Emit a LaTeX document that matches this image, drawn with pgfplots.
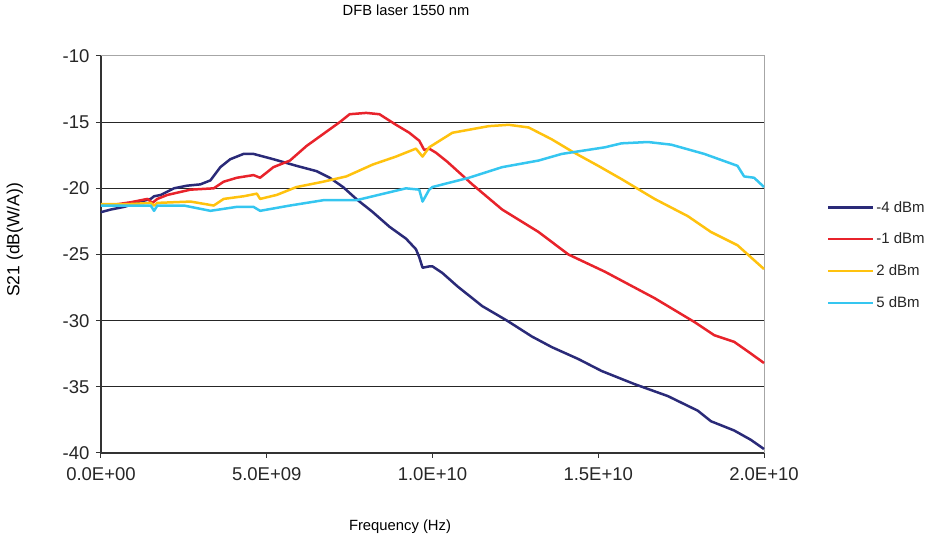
\documentclass[border=0pt]{standalone}
\usepackage{fontspec}
\setmainfont{Liberation Sans}
\usepackage{pgfplots}
\pgfplotsset{compat=1.18}
\definecolor{cNavy}{HTML}{2A2A78}
\definecolor{cRed}{HTML}{E8232B}
\definecolor{cYel}{HTML}{FFC20E}
\definecolor{cCyan}{HTML}{35C6F0}
\begin{document}
\begin{tikzpicture}[x=1pt,y=1pt]
\useasboundingbox (0,0) rectangle (927,538);
\begin{axis}[
  at={(101pt,85pt)}, anchor=south west,
  scale only axis, width=663pt, height=397pt,
  xmin=0, xmax=20, ymin=-40, ymax=-10,
  axis line style={draw=none},
  xtick={0,5,10,15,20},
  xticklabels={0.0E+00,5.0E+09,1.0E+10,1.5E+10,2.0E+10},
  ytick={-40,-35,-30,-25,-20,-15,-10},
  yticklabels={-40,-35,-30,-25,-20,-15,-10},
  xtick pos=bottom, ytick pos=left,
  tick align=outside, major tick length=5pt,
  tick style={black!80, line width=1pt},
  ticklabel style={font=\fontsize{18.5}{20}\selectfont, text=black!85},
  xticklabel style={yshift=-6pt},
  yticklabel style={xshift=-3pt},
  xlabel={Frequency (Hz)}, ylabel={S21 (dB(W/A))},
  xlabel style={at={(axis description cs:0.451,-0.186)}, anchor=center, font=\fontsize{14.8}{16}\selectfont},
  ylabel style={at={(axis description cs:-0.130,0.537)}, anchor=center, font=\fontsize{17.5}{19}\selectfont},
  title={DFB laser 1550 nm},
  title style={at={(axis description cs:0.46,1.101)}, anchor=center, font=\fontsize{14.7}{16}\selectfont},
  legend style={at={(1.09,0.645)}, anchor=north west, draw=none, fill=none,
    font=\fontsize{15}{17}\selectfont, row sep=15.5pt, text=black!85},
  legend cell align=left,
  legend image code/.code={\draw[#1, line width=2.5pt] (0pt,0pt) -- (40pt,0pt); \path (0pt,0pt) -- (45pt,0pt);},
  clip=false,
]
\draw[black!35, line width=1pt] (rel axis cs:0,1) -- (rel axis cs:1,1) -- (rel axis cs:1,0);
\draw[black!85, line width=1.3pt] (axis cs:0,-35) -- (axis cs:20,-35);
\draw[black!85, line width=1.3pt] (axis cs:0,-30) -- (axis cs:20,-30);
\draw[black!85, line width=1.3pt] (axis cs:0,-25) -- (axis cs:20,-25);
\draw[black!85, line width=1.3pt] (axis cs:0,-20) -- (axis cs:20,-20);
\draw[black!85, line width=1.3pt] (axis cs:0,-15) -- (axis cs:20,-15);
\draw[black!80, line width=1.2pt] (rel axis cs:0,1) -- (rel axis cs:0,0) -- (rel axis cs:1,0);

\addplot[cNavy, line width=2.5pt, line join=round] coordinates {
(0,-21.8)(0.3,-21.6)(0.7,-21.4)(1.2,-21.0)(1.5,-20.8)(1.6,-20.6)(1.8,-20.5)(2.2,-20.0)(2.6,-19.8)(3.0,-19.7)(3.3,-19.4)(3.6,-18.4)(3.9,-17.8)(4.3,-17.4)(4.6,-17.4)(5.2,-17.8)(5.9,-18.3)(6.5,-18.7)(6.9,-19.2)(7.3,-19.9)(7.7,-20.8)(8.2,-21.8)(8.7,-22.9)(9.2,-23.8)(9.5,-24.6)(9.6,-25.2)(9.7,-26.0)(9.9,-25.9)(10.0,-25.9)(10.3,-26.4)(10.75,-27.4)(11.5,-28.9)(12.25,-30.0)(13.0,-31.2)(13.6,-32.0)(14.4,-32.9)(15.1,-33.8)(16.1,-34.8)(17.1,-35.7)(18.0,-36.8)(18.4,-37.6)(19.1,-38.3)(19.6,-39.0)(20.0,-39.7)
};
\addlegendentry{-4 dBm}
\addplot[cRed, line width=2.5pt, line join=round] coordinates {
(0,-21.3)(0.5,-21.2)(0.9,-21.05)(1.4,-20.8)(1.55,-21.1)(1.7,-20.8)(2.0,-20.5)(2.7,-20.1)(3.4,-20.0)(3.7,-19.5)(4.1,-19.2)(4.6,-19.0)(4.8,-19.2)(5.2,-18.4)(5.7,-17.9)(6.2,-16.8)(6.7,-15.9)(7.2,-15.0)(7.5,-14.4)(8.0,-14.3)(8.4,-14.4)(8.9,-15.2)(9.3,-15.8)(9.6,-16.4)(9.75,-17.1)(9.9,-17.0)(10.1,-17.3)(10.45,-18.0)(11.2,-19.7)(12.1,-21.6)(13.2,-23.3)(14.1,-25.0)(15.2,-26.3)(16.7,-28.3)(17.9,-30.1)(18.5,-31.1)(19.1,-31.6)(19.5,-32.3)(20.0,-33.2)
};
\addlegendentry{-1 dBm}
\addplot[cYel, line width=2.5pt, line join=round] coordinates {
(0,-21.2)(0.8,-21.2)(1.5,-21.1)(1.6,-21.3)(1.7,-21.1)(2.7,-21.0)(3.4,-21.3)(3.7,-20.8)(4.3,-20.6)(4.7,-20.4)(4.8,-20.8)(5.3,-20.5)(5.9,-19.9)(6.7,-19.5)(7.4,-19.1)(8.2,-18.2)(8.9,-17.6)(9.5,-17.0)(9.7,-17.6)(9.9,-16.9)(10.6,-15.8)(11.7,-15.3)(12.3,-15.2)(12.9,-15.4)(13.6,-16.3)(14.2,-17.2)(15.0,-18.3)(15.7,-19.3)(16.7,-20.8)(17.7,-22.1)(18.4,-23.3)(19.2,-24.3)(19.6,-25.2)(20.0,-26.1)
};
\addlegendentry{2 dBm}
\addplot[cCyan, line width=2.5pt, line join=round] coordinates {
(0,-21.3)(1.5,-21.3)(1.6,-21.7)(1.7,-21.3)(2.5,-21.3)(3.3,-21.7)(4.1,-21.4)(4.6,-21.4)(4.8,-21.7)(5.7,-21.3)(6.7,-20.9)(7.7,-20.9)(8.2,-20.6)(8.7,-20.3)(9.2,-20.0)(9.6,-20.1)(9.7,-21.0)(9.9,-20.1)(10.0,-19.9)(11.1,-19.2)(12.1,-18.4)(13.2,-17.9)(13.9,-17.4)(15.2,-16.9)(15.7,-16.6)(16.5,-16.5)(17.2,-16.7)(18.2,-17.4)(19.2,-18.3)(19.4,-19.1)(19.7,-19.2)(20.0,-19.9)
};
\addlegendentry{5 dBm}
\end{axis}
\end{tikzpicture}
\end{document}
